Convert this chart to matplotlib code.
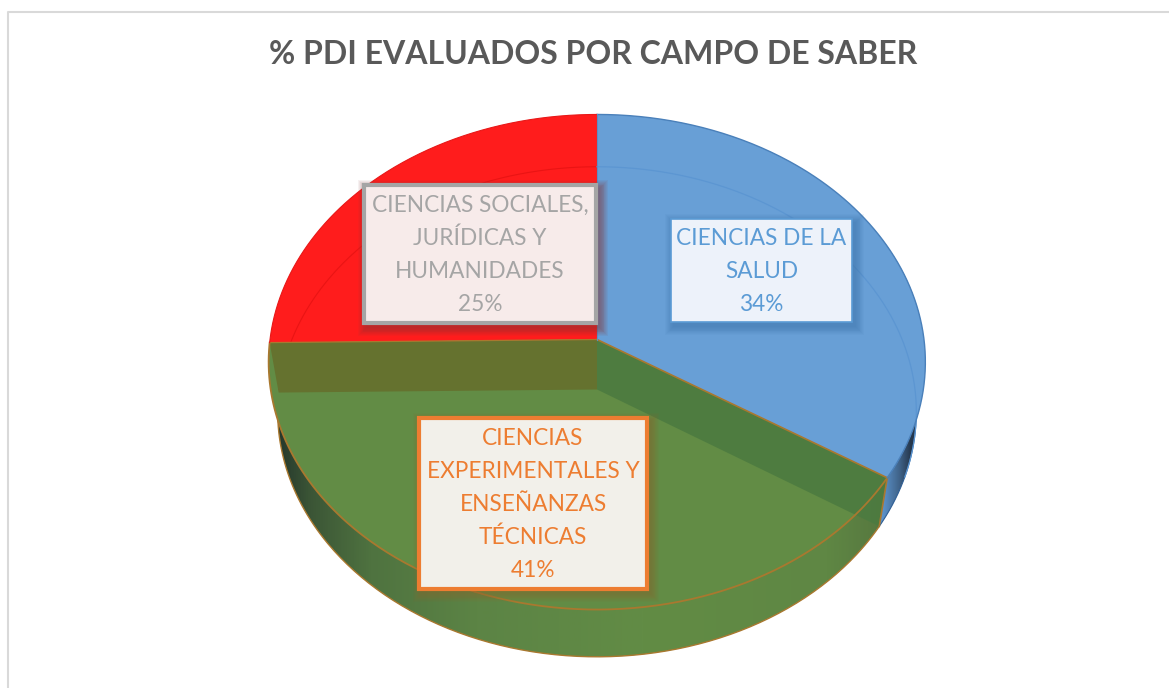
import numpy as np
import matplotlib
matplotlib.use("Agg")
import matplotlib.pyplot as plt
from matplotlib.patches import Polygon, Rectangle
from matplotlib.colors import LinearSegmentedColormap, to_rgba

plt.rcParams['font.family'] = ['Lato', 'DejaVu Sans']

TITLE = "% PDI EVALUADOS POR CAMPO DE SABER"
categories = ["CIENCIAS DE LA\nSALUD",
              "CIENCIAS\nEXPERIMENTALES Y\nENSEÑANZAS\nTÉCNICAS",
              "CIENCIAS SOCIALES,\nJURÍDICAS Y\nHUMANIDADES"]
values = [34.0, 40.8, 25.2]
pct_labels = ["34%", "41%", "25%"]
face_colors = ["#689FD6", "#628C45", "#FF1C1C"]
label_colors = ["#5B9BD5", "#ED7D31", "#A5A5A5"]
label_fills = ["#EDF2FA", "#F2F0EA", "#F7EBEA"]
shadow_colors = ["#3F76AC", "#8A6A30", "#8A3A3A"]
label_boxes = [(671, 219, 852, 322), (419, 418, 647, 589), (364, 185, 596, 323)]
label_lw = [1.2, 3.0, 3.0]

W, H = 1169, 688
fig = plt.figure(figsize=(W / 100, H / 100), dpi=100)
ax = fig.add_axes([0, 0, 1, 1])
ax.set_xlim(0, W)
ax.set_ylim(H, 0)
ax.axis("off")

# projection of the disc
CX, TOPY, BOTY = 597.0, 339.5, 389.5
K = -0.0909

def proj(t_deg, level=0, r=1.0):
    t = np.radians(t_deg)
    u, v = r * np.sin(t), -r * np.cos(t)
    w = 1 + K * v
    if level == 0:
        return CX + 327 * u / w, TOPY + 245.5 * v / w
    return CX + 318 * u / w, BOTY + 243 * v / w

def arc(a, b, level=0, n=240):
    x, y = proj(np.linspace(a, b, n), level)
    return np.column_stack([x, y])

cum = np.concatenate([[0], np.cumsum(values)]) / np.sum(values) * 360
a0, a1, a2, a3 = cum

# frame: top and left edges only, the rest runs off the picture
ax.plot([7.5, 7.5, W], [H, 11.5, 11.5], color="#D9D9D9", lw=1.5, zorder=1)

def wall(a, b, stops, xr):
    pts = np.vstack([arc(a, b, 0), arc(a, b, 1)[::-1]])
    poly = Polygon(pts, closed=True, fc="none", ec="none", zorder=2)
    ax.add_patch(poly)
    cmap = LinearSegmentedColormap.from_list("w", stops)
    grad = np.linspace(0, 1, 512)[None, :]
    im = ax.imshow(grad, cmap=cmap, extent=[xr[0], xr[1], H, 0], aspect="auto", zorder=2,
                   interpolation="bilinear")
    im.set_clip_path(poly)
    ax.set_xlim(0, W)
    ax.set_ylim(H, 0)

# outer walls
wall(a1, a2,
     [(0, "#22332A"), (0.06, "#3B5536"), (0.16, "#4F7340"), (0.33, "#5C8445"),
      (0.6, "#628C45"), (0.9, "#5F8744"), (1, "#56763F")], (272, 890))
wall(60, a1, [(0, "#689FD6"), (0.2, "#5A8FC5"), (0.55, "#3F6288"), (0.8, "#25374C"), (1, "#25374C")],
     (875, 920))

# edges of outer walls
b = arc(a1, a2, 1)
ax.plot(b[:, 0], b[:, 1], color="#A9782F", lw=1.0, zorder=3)
b2 = arc(80, a1, 1)
ax.plot(b2[:, 0], b2[:, 1], color="#2F5F95", lw=0.8, zorder=3)

# top faces
for i, c in enumerate(face_colors):
    p = np.vstack([[proj(0, 0, 0)], arc(cum[i], cum[i + 1], 0)])
    ax.add_patch(Polygon(p, closed=True, fc=c, ec="none", zorder=4))

# faint far rim of the base seen through the slices
fr = arc(a3 - 90, a3, 1)
ax.plot(fr[:, 0], fr[:, 1], color="#EA1414", lw=0.8, zorder=5)
fb = arc(0, a1 - 12, 1)
ax.plot(fb[:, 0], fb[:, 1], color="#5C96D2", lw=0.9, zorder=5)

# inner walls seen through the green slice
for ang, col in [(a2, "#65722F"), (a1, "#4D7B40")]:
    top = proj(ang, 0)
    base = proj(ang, 1)
    q = [(CX, TOPY), top, base, (CX, BOTY)]
    alpha = 1.0 if ang == a2 else 0.92
    ax.add_patch(Polygon(q, closed=True, fc=col, ec="none", alpha=alpha, zorder=5))

# outer rims
rim = arc(a1, a2, 0)
ax.plot(rim[:, 0], rim[:, 1], color="#A9782F", lw=1.3, zorder=6)
ax.plot([CX, proj(a1, 0)[0]], [TOPY, proj(a1, 0)[1]], color="#A9782F", lw=1.2, zorder=6)
ax.plot([CX, proj(a2, 0)[0]], [TOPY, proj(a2, 0)[1]], color="#A9782F", lw=0.9, zorder=6)
ax.plot([proj(a1, 0)[0], proj(a1, 1)[0]], [proj(a1, 0)[1], proj(a1, 1)[1]], color="#A9782F", lw=1.2, zorder=6)
rb = arc(a0, a1, 0)
ax.plot(rb[:, 0], rb[:, 1], color="#4A80BA", lw=1.0, zorder=6)
rr = arc(a2, a3, 0)
ax.plot(rr[:, 0], rr[:, 1], color="#E81818", lw=0.8, zorder=6)
ax.plot([CX, CX], [proj(0, 0)[1], TOPY], color="#5A8FC5", lw=0.8, zorder=6)

# label boxes with soft shadow
for i, (x0, y0, x1, y1) in enumerate(label_boxes):
    for s in range(10, 0, -1):
        g = s * 0.9
        ax.add_patch(Rectangle((x0 - g + 3, y0 - g + 4), x1 - x0 + 2 * g, y1 - y0 + 2 * g,
                               fc=to_rgba(shadow_colors[i], 0.07), ec="none", zorder=7))
    ax.add_patch(Rectangle((x0, y0), x1 - x0, y1 - y0, fc=label_fills[i],
                           ec=label_colors[i], lw=label_lw[i], zorder=8))
    ax.text((x0 + x1) / 2, (y0 + y1) / 2 + 1, categories[i] + "\n" + pct_labels[i],
            ha="center", va="center", color=label_colors[i], fontsize=16.3,
            linespacing=1.7, zorder=9)

ax.text(593.5, 55, TITLE, ha="center", va="center", color="#595959",
        fontsize=23, fontweight="bold", zorder=9)

fig.savefig("out.png", dpi=100)
